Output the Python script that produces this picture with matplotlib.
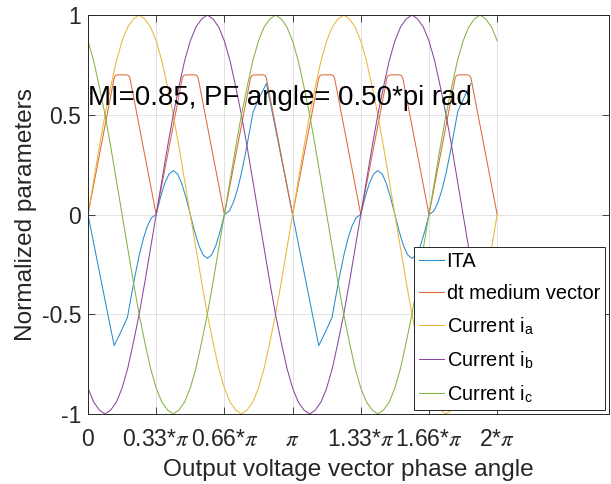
import numpy as np
import matplotlib
matplotlib.use('Agg')
import matplotlib.pyplot as plt

plt.rcParams['font.family'] = ['Liberation Sans', 'DejaVu Sans']
plt.rcParams['mathtext.fontset'] = 'stix'
plt.rcParams['axes.unicode_minus'] = False

# phase currents: one period (pi) sampled every pi/36
i_a_period = [0.00, 0.17, 0.34, 0.50, 0.64, 0.77, 0.87, 0.94, 0.98, 1.00, 0.98, 0.94,
              0.87, 0.77, 0.64, 0.50, 0.34, 0.17, 0.00, -0.17, -0.34, -0.50, -0.64, -0.77,
              -0.87, -0.94, -0.98, -1.00, -0.98, -0.94, -0.87, -0.77, -0.64, -0.50, -0.34, -0.17]
i_b_period = [-0.87, -0.94, -0.98, -1.00, -0.98, -0.94, -0.87, -0.77, -0.64, -0.50, -0.34, -0.17,
              0.00, 0.17, 0.34, 0.50, 0.64, 0.77, 0.87, 0.94, 0.98, 1.00, 0.98, 0.94,
              0.87, 0.77, 0.64, 0.50, 0.34, 0.17, 0.00, -0.17, -0.34, -0.50, -0.64, -0.77]
i_c_period = [0.87, 0.77, 0.64, 0.50, 0.34, 0.17, 0.00, -0.17, -0.34, -0.50, -0.64, -0.77,
              -0.87, -0.94, -0.98, -1.00, -0.98, -0.94, -0.87, -0.77, -0.64, -0.50, -0.34, -0.17,
              0.00, 0.17, 0.34, 0.50, 0.64, 0.77, 0.87, 0.94, 0.98, 1.00, 0.98, 0.94]

# dt medium vector: one period (pi/3), x in units of pi
dt_x = [0.0, 0.128, 0.135, 0.145, 0.188, 0.198, 0.205, 1 / 3]
dt_y = [0.0, 0.685, 0.697, 0.700, 0.700, 0.697, 0.685, 0.0]

# ITA: one period (pi), x in units of pi
ita_x = [0.0, 0.032, 0.064, 0.096, 0.128, 0.160, 0.193, 0.21, 0.23, 0.25, 0.27, 0.29, 0.31, 0.333,
         0.354, 0.375, 0.396, 0.417, 0.438, 0.458, 0.479, 0.500,
         0.521, 0.542, 0.563, 0.583, 0.604, 0.625, 0.646, 0.667,
         0.69, 0.71, 0.73, 0.75, 0.77, 0.79, 0.807, 0.84, 0.872, 0.904, 0.936, 0.968, 1.0]
ita_y = [0.0, -0.165, -0.33, -0.495, -0.657, -0.59, -0.515, -0.418, -0.307, -0.207, -0.123, -0.059, -0.017, 0.0,
         0.084, 0.156, 0.203, 0.22, 0.203, 0.156, 0.084, 0.0,
         -0.084, -0.156, -0.203, -0.22, -0.203, -0.156, -0.084, 0.0,
         0.017, 0.059, 0.123, 0.207, 0.307, 0.418, 0.515, 0.59, 0.657, 0.495, 0.33, 0.165, 0.0]
ita_end = 1.872  # ITA trace stops here (units of pi)

tick_pos = [0, 1 / 3, 2 / 3, 1, 4 / 3, 5 / 3, 2]
tick_labels = ['0', r'0.33*$\pi$', r'0.66*$\pi$', r'$\pi$', r'1.33*$\pi$', r'1.66*$\pi$', r'2*$\pi$']

colors = ['#2A8CCB', '#DD6A3A', '#EDB63A', '#8A46A0', '#84B444']

# build full traces
x_cur = np.linspace(0, 2 * np.pi, 73)
ia = np.r_[np.tile(i_a_period, 2), i_a_period[0]]
ib = np.r_[np.tile(i_b_period, 2), i_b_period[0]]
ic = np.r_[np.tile(i_c_period, 2), i_c_period[0]]

dt_full_x = np.concatenate([np.array(dt_x) + k / 3 for k in range(6)]) * np.pi
dt_full_y = np.tile(dt_y, 6)

ita_x = np.array(ita_x)
ita_y = np.array(ita_y)
keep = ita_x[1:] + 1 <= ita_end
ita_full_x = np.r_[ita_x, ita_x[1:][keep] + 1] * np.pi
ita_full_y = np.r_[ita_y, ita_y[1:][keep]]

fig = plt.figure(figsize=(6.11, 4.84), dpi=100)
ax = fig.add_axes([0.144, 0.1446, 0.8527, 0.8244])

lw = 0.75
ax.plot(ita_full_x, ita_full_y, color=colors[0], lw=lw, label='ITA')
ax.plot(dt_full_x, dt_full_y, color=colors[1], lw=lw, label='dt medium vector')
ax.plot(x_cur, ia, color=colors[2], lw=lw, label=r'Current i$_\mathregular{a}$')
ax.plot(x_cur, ib, color=colors[3], lw=lw, label=r'Current i$_\mathregular{b}$')
ax.plot(x_cur, ic, color=colors[4], lw=lw, label=r'Current i$_\mathregular{c}$')

ax.set_xlim(0, 8)
ax.set_ylim(-1, 1)
ax.set_xticks(np.array(tick_pos) * np.pi)
ax.set_xticklabels(tick_labels)
ax.set_yticks([-1, -0.5, 0, 0.5, 1])
ax.set_yticklabels(['-1', '-0.5', '0', '0.5', '1'])

ax.grid(True, color='#262626', alpha=0.15, lw=0.6)
ax.tick_params(direction='in', top=True, right=True, length=5, width=0.6,
               color='#262626', labelcolor='#262626', labelsize=16.5)
ax.tick_params(axis='x', pad=10)
ax.tick_params(axis='y', pad=5)
for s in ax.spines.values():
    s.set_color('#262626')
    s.set_linewidth(0.7)

ax.set_xlabel('Output voltage vector phase angle', fontsize=17.6, color='#262626', labelpad=6)
ax.set_ylabel('Normalized parameters', fontsize=17.6, color='#262626')
ax.yaxis.set_label_coords(-0.098, 0.5)

ax.text(0, 0.586, 'MI=0.85, PF angle= 0.50*pi rad', fontsize=19.9, va='center', ha='left')

leg = ax.legend(loc='lower right', fontsize=14.4, fancybox=False, framealpha=1,
                edgecolor='#262626', borderaxespad=0.2, handlelength=1.25,
                handletextpad=0.15, borderpad=0.25, labelspacing=0.62)
leg.get_frame().set_linewidth(0.7)

fig.savefig('out.png', dpi=100)
